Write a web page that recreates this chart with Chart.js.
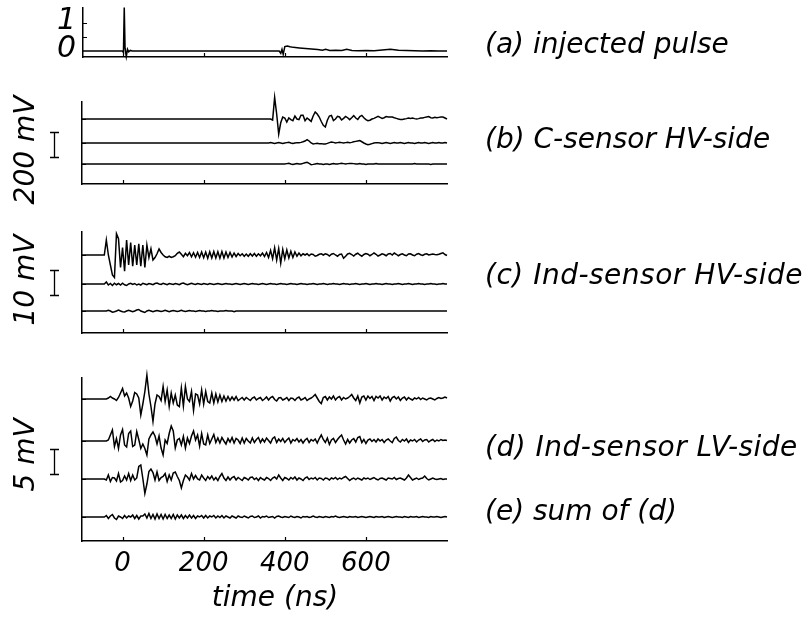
<!DOCTYPE html>
<html>
<head>
<meta charset="utf-8">
<script src="https://cdn.jsdelivr.net/npm/chart.js@4.4.1/dist/chart.umd.min.js"></script>
<style>
  body { margin: 0; background: #fff; }
  #wrap { position: relative; width: 811px; height: 619px; overflow: hidden;
          font-family: 'DejaVu Sans', sans-serif; font-style: italic; color: #000; }
  canvas { position: absolute; left: 0; }
  .lbl { position: absolute; font-size: 28px; line-height: 28px; white-space: nowrap; }
  .rot { position: absolute; font-size: 28px; line-height: 28px; white-space: nowrap;
         transform: translate(-50%, -50%) rotate(-90deg); }
  .ctr { position: absolute; font-size: 28px; line-height: 28px; white-space: nowrap;
         transform: translate(-50%, -50%); }
</style>
</head>
<body>
<div id="wrap">
  <canvas id="panelA" width="811" height="70" style="top:0px"></canvas>
  <canvas id="panelB" width="811" height="100" style="top:90px"></canvas>
  <canvas id="panelC" width="811" height="125" style="top:220px"></canvas>
  <canvas id="panelD" width="811" height="254" style="top:365px"></canvas>

  <div class="lbl" style="left:485px; top:30px">(a) injected pulse</div>
  <div class="lbl" style="left:485px; top:125px">(b) C-sensor HV-side</div>
  <div class="lbl" style="left:485px; top:261px; letter-spacing:0.5px">(c) Ind-sensor HV-side</div>
  <div class="lbl" style="left:485px; top:433px; letter-spacing:0.5px">(d) Ind-sensor LV-side</div>
  <div class="lbl" style="left:485px; top:497px">(e) sum of (d)</div>

  <div class="rot" style="left:25px; top:150px">200 mV</div>
  <div class="rot" style="left:25px; top:280px">10 mV</div>
  <div class="rot" style="left:25px; top:455px">5 mV</div>

  <div class="ctr" style="left:275px; top:597px">time (ns)</div>
</div>

<script>
// time axis
const T_START = -100;
const T_STEP = 5;
const timeTicks = [0, 200, 400, 600];

// (a) injected pulse, normalised
const pulseTimes = [-100, -3, 0, 2, 4, 7, 10, 13, 17, 22, 30,
  385, 389, 392, 395, 399, 405, 412, 420, 435, 450,
  465, 480, 492, 500, 510, 525, 540, 552, 565, 580,
  600, 620, 640, 660, 680, 700, 720, 740, 760, 780, 800];
const pulseValues = [0, 0, -0.05, 1.55, 0.1, -0.2, 0.06, -0.03, 0.02, 0, 0,
  0, -0.08, 0.06, -0.12, 0.16, 0.18, 0.15, 0.13, 0.11, 0.09,
  0.07, 0.05, 0.03, 0.06, 0.02, 0.03, 0.02, 0.06, 0.02, 0.01,
  0.02, 0.01, 0.04, 0.06, 0.03, 0.02, 0.01, 0, 0.01, 0, 0];

// (b) C-sensor HV-side, mV, one value every 5 ns from -100 ns
const cSensor1 = [
  0,0,0,0,0,0,0,0,0,0,0,0,0,0,0,0,0,0,0,0,
  0,0,0,0,0,0,0,0,0,0,0,0,0,0,0,0,0,0,0,0,
  0,0,0,0,0,0,0,0,0,0,0,0,0,0,0,0,0,0,0,0,
  0,0,0,0,0,0,0,0,0,0,0,0,0,0,0,0,0,0,0,0,
  0,0,0,0,0,0,0,0,0,0,0,0,0,0,-8,173,40,-120,-30,16,
  8,-24,8,-5,-13,24,0,-5,30,30,-13,8,-5,-19,24,56,40,16,-20,-50,
  -64,-10,24,29,-13,0,21,16,-8,5,21,10,-5,10,27,8,-3,20,29,10,
  -5,-13,-10,0,5,13,21,13,5,10,19,16,16,16,10,5,0,-3,-3,0,
  3,8,5,8,3,0,3,8,8,13,16,19,10,8,13,10,13,16,16,8,
  0];
const cSensor2 = [
  0,0,0,0,0,0,0,0,0,0,0,0,0,0,0,0,0,0,0,0,
  0,0,0,0,0,0,0,0,0,0,0,0,0,0,0,0,0,0,0,0,
  0,0,0,0,0,0,0,0,0,0,0,0,0,0,0,0,0,0,0,0,
  0,0,0,0,0,0,0,0,0,0,0,0,0,0,0,0,0,0,0,0,
  0,0,0,0,0,0,0,0,0,0,0,0,0,3,0,-3,0,3,0,-3,
  0,3,5,0,-3,0,3,3,5,10,16,27,16,0,-8,-5,-3,-5,-5,-8,
  -8,-3,3,8,5,0,3,5,3,0,3,5,3,5,10,13,16,19,10,0,
  -8,-13,-10,-5,0,3,3,0,-3,0,3,0,-3,0,3,0,0,3,0,-3,
  0,3,0,0,-3,0,3,0,0,3,0,-3,0,3,0,0,3,0,0,3,
  0];
const cSensor3 = [
  0,0,0,0,0,0,0,0,0,0,0,0,0,0,0,0,0,0,0,0,
  0,0,0,0,0,0,0,0,0,0,0,0,0,0,0,0,0,0,0,0,
  0,0,0,0,0,0,0,0,0,0,0,0,0,0,0,0,0,0,0,0,
  0,0,0,0,0,0,0,0,0,0,0,0,0,0,0,0,0,0,0,0,
  0,0,0,0,0,0,0,0,0,0,0,0,0,0,0,0,0,0,0,0,
  0,3,5,0,-3,0,3,0,0,5,10,13,5,-5,-3,0,3,0,0,-3,
  0,0,-3,0,3,0,0,3,5,3,0,3,5,5,3,0,0,3,0,0,
  -3,0,0,0,0,3,0,0,0,0,0,0,0,0,0,0,0,0,0,0,
  0,0,0,0,3,0,0,0,0,0,0,0,-3,0,0,0,0,0,0,0,
  0];

// (c) Ind-sensor HV-side, mV
const indHv1 = [
  0,0,0,0,0,0,0,0,0,0,0,0,6,0,-4,-8,-9,8.5,6.5,-5,
  3,-6.5,6,-4,5,-4.5,4,-4,4.5,-4.5,4,-5,4,-1,2.5,-2,-1,0.5,2.4,1,
  0,-0.7,-1,-0.5,-1,-0.7,-0.3,0.7,1.2,0.3,-0.7,0.7,-0.3,1,-0.7,0.9,-0.9,1,-1,1.2,
  -1.1,1.2,-1.3,1.3,-1.2,1.4,-1.2,1.3,-1.3,1.4,-1.2,1.2,-1,1,-0.8,0.8,-0.6,0.6,-0.3,0.5,
  -0.5,0.4,-0.5,0.5,-0.4,0.6,-0.5,0.5,-0.3,0.8,-0.6,1,-1,1.8,-1.5,2.9,-2,2.6,-3.3,2.2,
  -1.5,2,-1.2,1.5,-1,1.2,-0.5,0.8,-0.3,0.5,0,0.5,-0.3,0.4,0.2,-0.5,-0.2,0.3,0.5,0,
  0.5,0.2,-0.4,0.3,0.6,0,-0.5,0.2,0.4,-1.3,-0.5,0.4,0.7,0.2,-0.4,0.3,0.7,0,-0.5,0.2,
  0.6,0.3,-0.3,0.2,0.8,0.3,-0.4,0,0.5,0.2,-0.3,0.4,0.6,0,0.8,0.3,-0.3,0.2,0.5,0,
  -0.3,0.4,0.5,0,-0.3,0.3,0.6,0.1,-0.2,0.3,0.5,0,0.2,0.4,0.2,0.1,0.3,0.6,0.9,0.2,
  -0.2];
const indHv2 = [
  0,0,0,0,0,0,0,0,0,0,0,0,0.8,-0.4,0.2,-0.6,0.3,-0.3,0.2,-0.4,
  0.3,-0.3,-0.6,0,0.3,-0.2,0.2,-0.4,0,-0.4,0.3,0,-0.3,0.2,0,-0.3,0.2,0.4,0,-0.2,
  0.3,0,-0.3,0.2,0,-0.2,0.2,0,-0.3,0.2,0.4,0,-0.3,0,0.3,0,-0.2,0.2,0,-0.2,
  0.2,0,-0.2,0.2,0,-0.2,0,0.2,0,-0.2,0,0.2,0,0,-0.2,0,0.2,0,-0.2,0,
  0.2,0,-0.2,0,0.2,0,0,-0.2,0,0.2,0,-0.2,0,0.2,0,0,-0.2,0,0.2,0,
  0,-0.2,0,0.2,0,0,-0.2,0,0.2,0,0,-0.2,0,0,0.2,0,-0.2,0,0,0.2,
  0,-0.2,0,0,0.2,0,0,-0.2,0,0.2,0,0,-0.2,0,0,0.2,0,-0.2,0,0,
  0.2,0,-0.2,0,0,0.2,0,0,-0.2,0,0.2,0,0,-0.2,0,0,0.2,0,-0.2,0,
  0,0.2,0,-0.2,0,0,0.2,0,0,-0.2,0,0,0.2,0,0,-0.2,0,0,0.2,0,
  0];
const indHv3 = [
  0,0,0,0,0,0,0,0,0,0,0,0,0,0.3,0,-0.5,-0.3,0,0.4,0,
  -0.3,-0.4,0,0.3,0,-0.3,0,0.4,0.6,0,-0.3,-0.6,0,0.3,0,-0.3,0,0.2,0,-0.2,
  0,0.3,0,-0.3,0,0.2,0,-0.2,0,0.3,0,-0.2,0,0.2,0,0,-0.2,0,0.2,0,
  0,-0.2,0,0,0.2,0,0,-0.2,0,0,0,0.2,0,0,0,-0.3,0,0,0,0,
  0,0,0,0,0,0,0,0,0,0,0,0,0,0,0,0,0,0,0,0,
  0,0,0,0,0,0,0,0,0,0,0,0,0,0,0,0,0,0,0,0,
  0,0,0,0,0,0,0,0,0,0,0,0,0,0,0,0,0,0,0,0,
  0,0,0,0,0,0,0,0,0,0,0,0,0,0,0,0,0,0,0,0,
  0,0,0,0,0,0,0,0,0,0,0,0,0,0,0,0,0,0,0,0,
  0];

// (d) Ind-sensor LV-side, mV, and (e) their sum
const indLv1 = [
  0,0,0,0,0,0,0,0,0,0,0,0,0,0.2,0.5,0.2,0,-0.3,0.3,1.2,
  2.1,0.6,1.2,0.2,-1.5,-0.4,1.3,1,0.2,-3.2,-1,1.5,4.8,1,-1.5,-4.5,-1,0.8,0.5,-0.3,
  2.5,-0.5,1.8,-1.5,1.2,-0.8,0.8,-1.2,-1.5,2.2,-1.4,2.5,0,-0.5,1.5,-2.3,1,0.8,-1,1.8,
  -1,1.5,-0.5,-0.8,1.2,-0.8,1,-0.6,0.8,-0.5,0.6,-0.4,0.5,-0.3,0.4,-0.2,0.5,-0.3,0,0.3,
  -0.2,0.3,0,-0.3,0.2,0.4,-0.2,0.1,0.3,-0.3,0,0.4,-0.2,0.3,0.5,-0.1,-0.4,0.2,0.3,-0.2,
  0,0.3,-0.3,0.2,0.1,-0.3,0.2,0.4,-0.2,0,0.3,-0.3,0,0.2,0.5,0.9,0.2,-0.5,-0.9,0.3,
  0.5,-0.2,0.4,0,0.6,-0.2,0.3,0.5,-0.2,0.3,0,0.2,0.5,0.9,0.2,-0.3,0.6,-0.8,0.4,0.6,
  -0.2,0.6,0.1,0.5,-0.3,0.5,0.2,0.6,-0.2,0.4,0.1,0.5,-0.4,0.3,0.5,0,0.4,-0.3,0.2,0.4,
  -0.2,0.3,0,-0.2,0.2,0,0.3,-0.1,0.2,0,-0.2,0.1,0.2,0,-0.2,0.1,0.3,0.1,0.2,0.4,
  0.2];
const indLv2 = [
  0,0,0,0,0,0,0,0,0,0,0,0,0,0.2,1.2,2.2,-1.1,0.5,-1.5,1.2,
  2.3,-0.8,-1.2,1.5,2,-1.1,-0.8,1.9,0.3,-1.5,-0.6,-1.5,-2.8,0.4,1.2,1.8,1,-0.6,1,-1.4,
  -2.8,0.2,-0.5,1.5,3,2,-1.4,0.2,0.5,-0.8,0.9,-1.4,0.6,-0.5,1,2,0.2,1.2,-1,1.5,
  -0.6,-0.8,1.2,-0.5,0.4,1.3,-0.3,0.6,-0.4,0.7,0,-0.6,0.5,-0.2,0.7,-0.4,0.5,0.2,-0.5,0.6,
  -0.4,0.5,0,-0.4,0.6,-0.3,0.3,0.7,-0.3,0.4,-0.2,0.6,0.1,-0.4,0.5,0.8,-0.3,0.4,-0.1,0.5,
  -0.3,0.2,0.6,-0.4,0.3,0,0.5,-0.2,0.3,-0.4,0.2,0.5,-0.3,0.3,0,0.4,-0.4,0.5,1.2,0.3,
  -0.3,0.6,-0.7,0.2,0.5,-0.3,0.3,0.8,1.2,0.2,-0.6,0.3,-0.4,0.2,0.5,-0.2,0.7,0.9,-0.3,0.3,
  -0.5,0.2,0.4,-0.1,0.3,-0.2,0.4,0,0.3,-0.3,0.2,0.4,0,-0.3,0.5,0.8,0.1,-0.2,0.3,0,
  0.4,-0.3,0.2,0,0.3,-0.2,0.2,0.4,-0.1,0.2,0.3,-0.2,0.1,0.3,-0.1,0.2,0,0.3,0.1,0.2,
  0.1];
const indLv3 = [
  0,0,0,0,0,0,0,0,0,0,0,0,-0.2,0.8,-0.5,0.3,0.2,-0.4,1.1,-0.6,
  -0.3,0.6,-0.2,1.1,-0.3,0.8,-0.2,0.2,2.5,2.8,0.1,-2.9,-1,1.5,2,1.3,-0.2,1.4,-0.3,0.3,
  0.5,1.1,-0.5,0.8,-0.2,1.2,1.4,0.5,-0.3,-1.8,-0.3,0.8,0.4,-0.2,1.1,0,0.7,0,-0.2,0.8,
  0.2,-0.3,0.5,0,0.6,-0.2,0.3,-0.3,0.5,1.1,0.2,-0.3,0.4,-0.2,0.3,0.5,-0.2,0.3,0,-0.3,
  0.3,0.1,-0.2,0.3,0.4,-0.1,0.2,-0.3,0.3,0,-0.2,0.3,0.1,-0.3,0.2,0.4,0,0.8,0.2,-0.3,
  0.3,0.1,-0.2,0.3,0,0.4,-0.2,0.2,0,-0.3,0.2,0.4,-0.1,0.2,0,0.3,-0.2,0.2,0.1,-0.2,
  0.2,0.1,-0.2,0.2,0,0.3,-0.1,0.2,0,0.3,0.5,0.1,-0.3,0,0.2,-0.1,0.2,0,-0.2,0.2,
  0,0.2,-0.1,0.1,0.3,0,-0.2,0.1,0.2,0,-0.2,0.2,0.1,0,0.3,-0.1,0.1,0.2,0,-0.2,
  0.2,0.8,0.3,-0.2,0,0.2,-0.1,0.1,0.2,0.6,0.1,-0.2,0,0.2,0,-0.1,0,0.1,-0.1,0,
  0];
const indLvSum = [
  0,0,0,0,0,0,0,0,0,0,0,0,0.3,-0.3,0.2,0.5,-0.2,-0.5,0.2,0,
  -0.3,0.3,-0.2,0.2,0,0.4,-0.3,0.3,-0.4,0.2,0.2,0.6,-0.2,0.7,-0.3,0.5,-0.4,0.6,-0.3,0.5,
  -0.4,0.5,-0.3,0.4,-0.3,0.5,-0.4,0.4,-0.2,0.4,-0.3,0.3,-0.2,0.4,-0.2,0.3,-0.3,0.2,0,0.3,
  -0.2,0.3,-0.2,0.2,0,0.3,-0.2,0.2,-0.1,0.3,-0.2,0.2,0,-0.2,0.2,0,-0.2,0.2,0,-0.1,
  0.2,0,-0.2,0.1,0.2,-0.1,0,0.2,-0.2,0.1,0,0.2,-0.1,0,0.1,-0.2,0.1,0.2,0,-0.1,
  0.1,0,-0.1,0.2,0,-0.1,0.1,0,-0.2,0.1,0,0.1,-0.1,0,0.2,0,-0.1,0.1,0,-0.1,
  0.1,0,-0.1,0.1,0,0.2,0,-0.1,0,0.1,0,-0.1,0.1,0,0,0.1,-0.1,0,0.1,0,
  -0.1,0,0.1,0,-0.1,0.1,0,0,0.1,-0.1,0,0.1,0,-0.1,0,0.1,0,0,-0.1,0.1,
  0,-0.1,0.1,0,0,0.1,-0.1,0,0.1,0,0,-0.1,0.1,0,0,0.1,0,-0.1,0,0.1,
  0];

// ---- layout (page pixels) ----
const AREA_RIGHT = 447;
const PAGE_W = 811;

Chart.defaults.font.family = "'DejaVu Sans', sans-serif";
Chart.defaults.color = '#000';

function gridPoints(values, offset) {
  return values.map((v, i) => ({ x: T_START + i * T_STEP, y: v + offset }));
}

// little tick marks pointing into the plot, like the original
const innerTicks = {
  id: 'innerTicks',
  afterDraw(chart, args, opts) {
    const { ctx, chartArea, scales } = chart;
    ctx.save();
    ctx.strokeStyle = '#000';
    ctx.lineWidth = 1.2;
    ctx.beginPath();
    (opts.x || []).forEach(v => {
      const px = Math.round(scales.x.getPixelForValue(v)) + 0.5;
      ctx.moveTo(px, chartArea.bottom);
      ctx.lineTo(px, chartArea.bottom - 4);
    });
    (opts.y || []).forEach(v => {
      const py = Math.round(scales.y.getPixelForValue(v)) + 0.5;
      ctx.moveTo(chartArea.left, py);
      ctx.lineTo(chartArea.left + 4, py);
    });
    ctx.stroke();
    ctx.restore();
  }
};

// the "I" scale bar left of each panel, its length taken from the y scale
const scaleBar = {
  id: 'scaleBar',
  afterDraw(chart, args, opts) {
    if (!opts || !opts.value) return;
    const y = chart.scales.y;
    const len = Math.abs(y.getPixelForValue(0) - y.getPixelForValue(opts.value));
    const top = opts.centerY - len / 2;
    const bottom = opts.centerY + len / 2;
    const ctx = chart.ctx;
    ctx.save();
    ctx.strokeStyle = '#000';
    ctx.lineWidth = 1.3;
    ctx.beginPath();
    ctx.moveTo(opts.x + 0.5, top);
    ctx.lineTo(opts.x + 0.5, bottom);
    ctx.moveTo(opts.x - 4, Math.round(top) + 0.5);
    ctx.lineTo(opts.x + 5, Math.round(top) + 0.5);
    ctx.moveTo(opts.x - 4, Math.round(bottom) + 0.5);
    ctx.lineTo(opts.x + 5, Math.round(bottom) + 0.5);
    ctx.stroke();
    ctx.restore();
  }
};

function noEdgePadding(s) {
  s.paddingTop = 0;
  s.paddingBottom = 0;
  s.paddingLeft = 0;
  s.paddingRight = 0;
}

function makePanel(id, p) {
  const canvas = document.getElementById(id);
  const canvasH = canvas.height;
  const areaBottomInCanvas = p.areaBottom - p.canvasTop;
  const xHeight = p.showTime ? canvasH - areaBottomInCanvas : 0;
  const padBottom = p.showTime ? 0 : canvasH - areaBottomInCanvas;

  const datasets = p.traces.map(tr => ({
    data: tr,
    borderColor: '#000',
    borderWidth: 1.5,
    pointRadius: 0,
    tension: 0,
    fill: false,
    clip: false
  }));

  const yScale = {
    type: 'linear',
    min: p.yMin,
    max: p.yMax,
    grid: { display: false, drawTicks: false },
    border: { display: true, color: '#000', width: 1.5 },
    ticks: { display: false },
    afterFit: s => { s.width = p.areaLeft; noEdgePadding(s); }
  };
  if (p.yLabels) {
    yScale.ticks = {
      display: true,
      autoSkip: false,
      padding: 7,
      labelOffset: -2,
      font: { size: 30, style: 'italic' },
      color: '#000',
      callback: v => String(v)
    };
    yScale.afterBuildTicks = s => { s.ticks = p.yLabels.map(v => ({ value: v })); };
  }

  const xScale = {
    type: 'linear',
    min: -100,
    max: 800,
    grid: { display: false, drawTicks: false },
    border: { display: true, color: '#000', width: 1.5 },
    ticks: { display: false },
    afterFit: s => { s.height = xHeight; noEdgePadding(s); }
  };
  if (p.showTime) {
    xScale.ticks = {
      display: true,
      padding: 8,
      maxRotation: 0,
      autoSkip: false,
      font: { size: 26, style: 'italic' },
      color: '#000',
      callback: v => String(v)
    };
    xScale.afterBuildTicks = s => { s.ticks = timeTicks.map(v => ({ value: v })); };
  }

  return new Chart(canvas, {
    type: 'line',
    data: { datasets: datasets },
    options: {
      responsive: false,
      animation: false,
      devicePixelRatio: 1,
      layout: {
        padding: {
          top: p.areaTop - p.canvasTop,
          right: PAGE_W - AREA_RIGHT,
          bottom: padBottom,
          left: 0
        }
      },
      plugins: {
        legend: { display: false },
        tooltip: { enabled: false },
        innerTicks: { x: timeTicks, y: p.yTicks },
        scaleBar: p.bar || {}
      },
      scales: { x: xScale, y: yScale }
    },
    plugins: [innerTicks, scaleBar]
  });
}

// trace baselines inside each panel (in the panel's own units)
const offsetsB = [0, -192, -360];
const offsetsC = [0, -11.6, -22.4];
const offsetsD = [0, -8.4, -16, -23.6];

makePanel('panelA', {
  canvasTop: 0, areaTop: 8, areaBottom: 57, areaLeft: 83,
  yMin: -0.214, yMax: 1.536,
  yLabels: [0, 1],
  yTicks: [1, 0.5],
  traces: [pulseTimes.map((t, i) => ({ x: t, y: pulseValues[i] }))]
});

makePanel('panelB', {
  canvasTop: 90, areaTop: 102, areaBottom: 184, areaLeft: 82,
  yMin: -520, yMax: 136,
  yTicks: offsetsB,
  bar: { value: 200, x: 54, centerY: 144.5 - 90 },
  traces: [cSensor1, cSensor2, cSensor3].map((v, k) => gridPoints(v, offsetsB[k]))
});

makePanel('panelC', {
  canvasTop: 220, areaTop: 232, areaBottom: 333, areaLeft: 82,
  yMin: -31.2, yMax: 9.2,
  yTicks: offsetsC,
  bar: { value: 10, x: 54, centerY: 282.5 - 220 },
  traces: [indHv1, indHv2, indHv3].map((v, k) => gridPoints(v, offsetsC[k]))
});

makePanel('panelD', {
  canvasTop: 365, areaTop: 378, areaBottom: 541, areaLeft: 82,
  yMin: -28.4, yMax: 4.2,
  yTicks: offsetsD,
  showTime: true,
  bar: { value: 5, x: 54, centerY: 461.5 - 365 },
  traces: [indLv1, indLv2, indLv3, indLvSum].map((v, k) => gridPoints(v, offsetsD[k]))
});
</script>
</body>
</html>
